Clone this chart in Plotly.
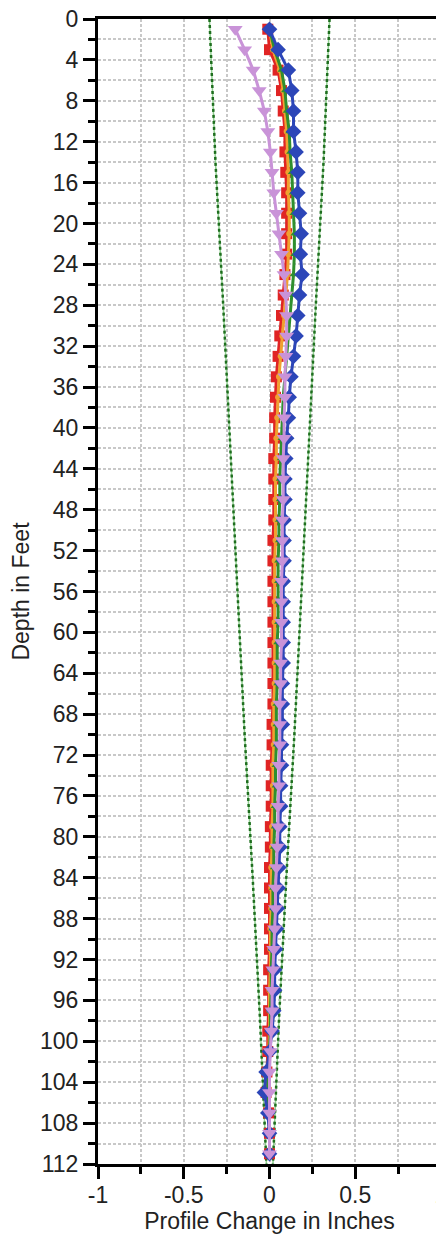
import plotly.graph_objects as go

depth = [1, 3, 5, 7, 9, 11, 13, 15, 17, 19, 21, 23, 25, 27, 29, 31, 33, 35, 37, 39,
         41, 43, 45, 47, 49, 51, 53, 55, 57, 59, 61, 63, 65, 67, 69, 71, 73, 75, 77, 79,
         81, 83, 85, 87, 89, 91, 93, 95, 97, 99, 101, 103, 105, 107, 109, 111]

red_vals = [-0.01, 0.00, 0.05, 0.07, 0.08, 0.09, 0.09, 0.095, 0.10, 0.10, 0.10, 0.10, 0.09, 0.08, 0.07, 0.06,
            0.05, 0.04, 0.035, 0.03, 0.03, 0.025, 0.025, 0.025, 0.025, 0.02, 0.02, 0.02, 0.02, 0.02,
            0.02, 0.02, 0.02, 0.02, 0.015, 0.015, 0.01, 0.01, 0.01, 0.005, 0.005, 0.0, 0.0, 0.0,
            0.0, 0.0, -0.005, -0.005, -0.005, -0.01, -0.01, -0.015, -0.02, -0.005, 0.0, 0.0]

orange_vals = [0.0, 0.02, 0.06, 0.08, 0.09, 0.10, 0.105, 0.11, 0.11, 0.115, 0.115, 0.11, 0.105, 0.095,
               0.085, 0.075, 0.065, 0.055, 0.05, 0.045, 0.04, 0.04, 0.035, 0.035, 0.035, 0.035, 0.03,
               0.03, 0.03, 0.03, 0.03, 0.03, 0.03, 0.025, 0.025, 0.025, 0.02, 0.02, 0.02, 0.015, 0.015,
               0.01, 0.01, 0.01, 0.005, 0.005, 0.005, 0.0, 0.0, 0.0, -0.005, -0.01, -0.01, 0.0, 0.0, 0.0]

green_vals = [0.0, 0.03, 0.07, 0.09, 0.10, 0.115, 0.12, 0.13, 0.135, 0.14, 0.145, 0.145, 0.14, 0.13,
              0.12, 0.11, 0.10, 0.09, 0.08, 0.075, 0.07, 0.065, 0.06, 0.06, 0.055, 0.055, 0.05, 0.05,
              0.05, 0.05, 0.045, 0.045, 0.045, 0.04, 0.04, 0.04, 0.035, 0.035, 0.03, 0.03, 0.025, 0.025,
              0.02, 0.02, 0.015, 0.015, 0.01, 0.01, 0.005, 0.005, 0.0, -0.01, -0.01, 0.0, 0.0, 0.0]

blue_vals = [0.0, 0.05, 0.11, 0.13, 0.14, 0.14, 0.155, 0.165, 0.165, 0.175, 0.185, 0.18, 0.19, 0.175,
             0.165, 0.155, 0.14, 0.125, 0.115, 0.11, 0.10, 0.095, 0.09, 0.09, 0.085, 0.085, 0.085, 0.08,
             0.08, 0.08, 0.08, 0.08, 0.075, 0.075, 0.075, 0.07, 0.07, 0.065, 0.065, 0.06, 0.06, 0.055,
             0.05, 0.045, 0.04, 0.035, 0.03, 0.03, 0.025, 0.015, 0.0, -0.02, -0.03, -0.01, 0.0, 0.0]

pink_vals = [-0.20, -0.145, -0.095, -0.06, -0.03, -0.01, 0.005, 0.015, 0.025, 0.04, 0.055, 0.07, 0.085,
             0.095, 0.10, 0.10, 0.095, 0.09, 0.09, 0.085, 0.085, 0.08, 0.08, 0.08, 0.075, 0.075, 0.075,
             0.07, 0.07, 0.07, 0.07, 0.065, 0.065, 0.06, 0.06, 0.06, 0.055, 0.055, 0.05, 0.05, 0.045,
             0.04, 0.035, 0.035, 0.03, 0.025, 0.02, 0.015, 0.015, 0.01, 0.005, 0.0, 0.0, 0.0, 0.0, 0.0]

env_depth = [0, 14, 28, 42, 56, 70, 84, 98, 112]
env_left = [-0.35, -0.315, -0.27, -0.228, -0.19, -0.145, -0.098, -0.055, -0.018]
env_right = [0.35, 0.315, 0.27, 0.228, 0.19, 0.145, 0.098, 0.055, 0.02]

x_ticks = [-1, -0.5, 0, 0.5, 1]
x_labels = ["-1", "-0.5", "0", "0.5", "1"]
y_ticks = list(range(0, 113, 4))

fig = go.Figure()

for ev in (env_left, env_right):
    fig.add_trace(go.Scatter(x=ev, y=env_depth, mode="lines",
                             line=dict(color="#8fd08f", width=1.5),
                             showlegend=False, hoverinfo="skip"))
    fig.add_trace(go.Scatter(x=ev, y=env_depth, mode="lines",
                             line=dict(color="#1f6e1f", width=2.5, dash="dot"),
                             showlegend=False, hoverinfo="skip"))

fig.add_trace(go.Scatter(x=red_vals, y=depth, mode="lines+markers",
                         line=dict(color="#e02424", width=3),
                         marker=dict(symbol="square", size=11, color="#e02424"),
                         showlegend=False))
fig.add_trace(go.Scatter(x=orange_vals, y=depth, mode="lines+markers",
                         line=dict(color="#f0a030", width=3),
                         marker=dict(symbol="circle", size=6, color="#f0a030"),
                         showlegend=False))
fig.add_trace(go.Scatter(x=green_vals, y=depth, mode="lines+markers",
                         line=dict(color="#2f8f2f", width=3),
                         marker=dict(symbol="triangle-up", size=7, color="#2f8f2f"),
                         showlegend=False))
fig.add_trace(go.Scatter(x=blue_vals, y=depth, mode="lines+markers",
                         line=dict(color="#2c46b8", width=3),
                         marker=dict(symbol="diamond", size=12, color="#2c46b8"),
                         showlegend=False))
fig.add_trace(go.Scatter(x=pink_vals, y=depth, mode="lines+markers",
                         line=dict(color="#c993d8", width=3),
                         marker=dict(symbol="triangle-down", size=13, color="#c993d8"),
                         showlegend=False))

font = dict(family="Liberation Sans, Arial, sans-serif", size=23, color="#222")
grid = "#c8c8c8"

# page body has an 8px default margin; the figure is sized/offset to compensate
fig.update_layout(
    width=436, height=1228,
    margin=dict(l=90, r=3, t=11, b=72),
    paper_bgcolor="white", plot_bgcolor="white",
    font=font,
    xaxis=dict(
        range=[-1, 1], tickmode="array", tickvals=x_ticks, ticktext=x_labels,
        ticks="outside", ticklen=12, tickwidth=3, tickcolor="black",
        showline=True, linewidth=3, linecolor="black", mirror=True,
        showgrid=True, gridcolor=grid, gridwidth=1.5, griddash="3px,2px",
        zeroline=False, automargin=False, ticklabelstandoff=-4,
        ticklabeloverflow="allow",
        minor=dict(dtick=0.25, tick0=0, ticks="outside", ticklen=7, tickwidth=3, tickcolor="black",
                   showgrid=True, gridcolor=grid, gridwidth=1.5, griddash="3px,2px"),
        title=dict(text="Profile Change in Inches", font=font, standoff=0),
        tickfont=font,
    ),
    yaxis=dict(
        range=[112, 0], tickmode="array", tickvals=y_ticks,
        ticks="outside", ticklen=12, tickwidth=3, tickcolor="black",
        showline=True, linewidth=3, linecolor="black", mirror=True,
        showgrid=True, gridcolor=grid, gridwidth=1.5, griddash="3px,2px",
        zeroline=False, automargin=False, ticklabeloverflow="allow",
        minor=dict(dtick=2, tick0=0, ticks="outside", ticklen=7, tickwidth=3, tickcolor="black",
                   showgrid=True, gridcolor=grid, gridwidth=1.5, griddash="3px,2px"),
        title=dict(text="Depth in Feet", font=font, standoff=6),
        tickfont=font,
    ),
)

fig.write_html("out.html")
